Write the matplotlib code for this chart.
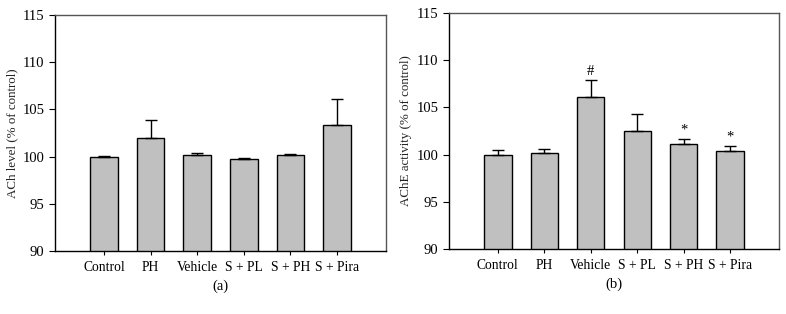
import matplotlib
matplotlib.use("Agg")
import matplotlib.pyplot as plt
import numpy as np

plt.rcParams['font.family'] = ['Liberation Serif', 'DejaVu Serif']

categories = ["Control", "PH", "Vehicle", "S + PL", "S + PH", "S + Pira"]
ach_mean = [100.0, 102.0, 100.2, 99.7, 100.2, 103.3]
ach_err = [0.1, 1.85, 0.2, 0.2, 0.1, 2.75]
ache_mean = [100.0, 100.2, 106.1, 102.45, 101.1, 100.35]
ache_err = [0.45, 0.4, 1.8, 1.85, 0.6, 0.6]
ache_marks = ["", "", "#", "", "*", "*"]
yticks = [90, 95, 100, 105, 110, 115]

W, H = 786, 314
fig = plt.figure(figsize=(W / 100, H / 100), dpi=100)

def panel(rect, means, errs, ylabel, sub, marks=None):
    ax = fig.add_axes(rect)
    x = np.arange(len(categories))
    ax.bar(x, means, width=0.59, color="#c0c0c0", edgecolor="black", linewidth=1.0, zorder=2)
    ax.errorbar(x, means, yerr=[np.zeros(len(errs)), errs], fmt="none", ecolor="black",
                elinewidth=1.0, capsize=4, capthick=1.0, zorder=3)
    ax.set_xlim(-1.05, len(categories) - 1 + 1.05)
    ax.set_ylim(90, 115)
    ax.set_yticks(yticks)
    ax.set_xticks(x)
    ax.set_xticklabels(categories, fontsize=9.8)
    ax.tick_params(axis="y", labelsize=10.5, direction="out", length=4, width=0.8)
    ax.tick_params(axis="x", direction="out", length=3, width=0.8, pad=4)
    for s in ["top", "right"]:
        ax.spines[s].set_color("#555555")
    for s in ax.spines.values():
        s.set_linewidth(1.0)
    ax.set_ylabel(ylabel, fontsize=9.4, color="#222222", labelpad=3)
    ax.text(0.5, -0.15, sub, transform=ax.transAxes, ha="center", va="center", fontsize=10.5)
    if marks:
        for xi, m, e, mk in zip(x, means, errs, marks):
            if mk:
                ax.text(xi, m + e + 0.2, mk, ha="center", va="bottom", fontsize=10.5)
    return ax

panel([55 / W, 1 - 251 / H, 331 / W, 236 / H], ach_mean, ach_err, "ACh level (% of control)", "(a)")
panel([449 / W, 1 - 249 / H, 330 / W, 236 / H], ache_mean, ache_err, "AChE activity (% of control)", "(b)", ache_marks)

fig.savefig("out.png", dpi=100)
